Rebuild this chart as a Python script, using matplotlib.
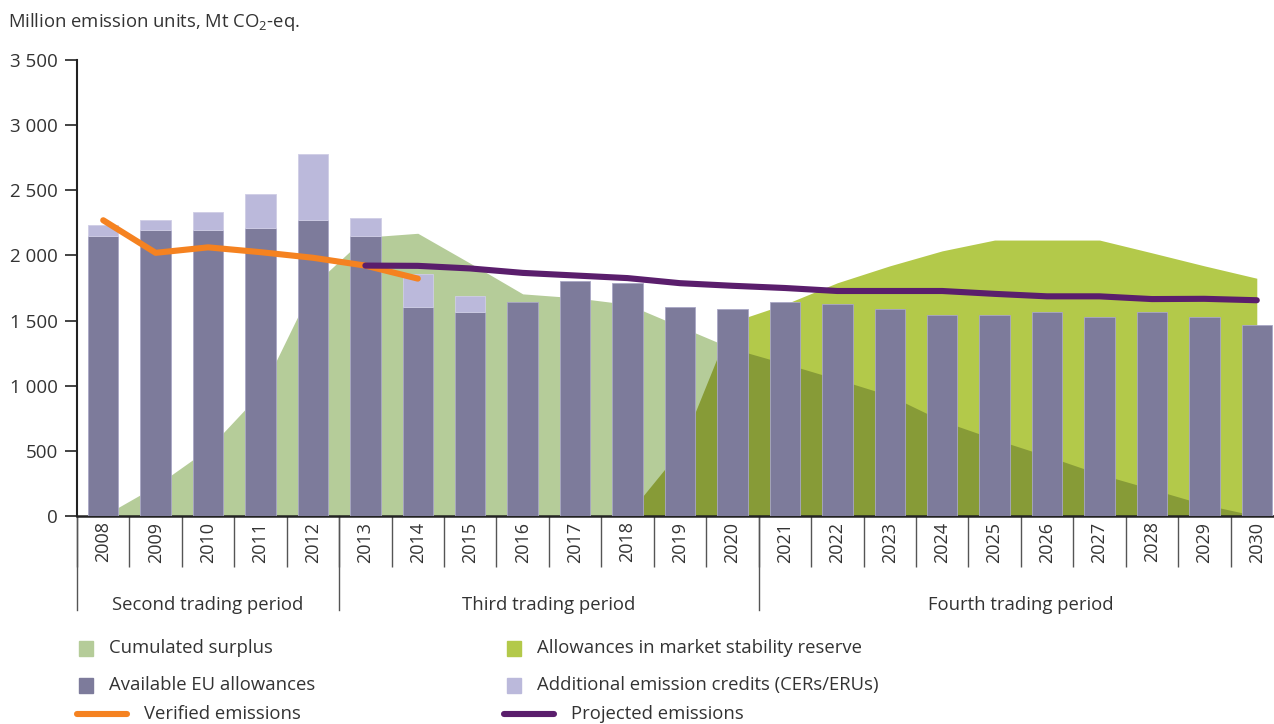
import numpy as np
import matplotlib.pyplot as plt
from matplotlib.patches import Rectangle
from matplotlib.lines import Line2D

plt.rcParams['font.family'] = ['Open Sans', 'DejaVu Sans']
plt.rcParams['mathtext.fontset'] = 'custom'
plt.rcParams['mathtext.rm'] = 'Open Sans'
plt.rcParams['mathtext.it'] = 'Open Sans:italic'
plt.rcParams['mathtext.bf'] = 'Open Sans:bold'

# data (Mt CO2-eq.)
years = [str(y) for y in range(2008, 2031)]
eu_allowances = [2150, 2195, 2195, 2210, 2270, 2150, 1605, 1565, 1645, 1805, 1785, 1605,
                 1585, 1645, 1625, 1585, 1545, 1545, 1565, 1525, 1565, 1525, 1468]
additional_credits = [80, 75, 135, 260, 510, 140, 255, 120]  # 2008-2015
cumulated_surplus = [0, 230, 515, 945, 1770, 2140, 2170, 1940, 1705, 1675, 1625, 1455,
                     1285, 1170, 1050, 925, 730, 590, 460, 322, 206, 88, 0]
msr_years = years[10:]  # 2018-2030
msr_allowances = [0, 495, 1490, 1625, 1790, 1920, 2035, 2118, 2118, 2118, 2020, 1920, 1825]
verified_years = years[:7]  # 2008-2014
verified_emissions = [2270, 2020, 2062, 2025, 1982, 1922, 1822]
projected_years = years[5:]  # 2013-2030
projected_emissions = [1922, 1920, 1900, 1866, 1846, 1826, 1787, 1767, 1750, 1727, 1727,
                       1727, 1705, 1686, 1686, 1665, 1667, 1656]

periods = ['Second trading period', 'Third trading period', 'Fourth trading period']
period_edges = [-0.5, 4.5, 12.5, 22.5]

c_surplus = '#b5cc99'
c_msr = '#b3c94a'
c_overlap = '#879b37'
c_eu = '#7d7b9b'
c_credits = '#bbb9db'
c_verified = '#f58220'
c_projected = '#5a1e6c'
c_text = '#333333'

W, H = 1274, 724
fs = 13.3
fig = plt.figure(figsize=(W / 100, H / 100), dpi=100)
ax = fig.add_axes([77 / W, 208 / H, 1206 / W, 456 / H])

x = np.arange(len(years))
x_msr = x[10:]

# areas
ax.fill_between(x, 0, cumulated_surplus, color=c_surplus, lw=0, zorder=1)
msr_poly = ax.fill_between(x_msr, 0, msr_allowances, color=c_msr, lw=0, zorder=1.2)
overlap = ax.fill_between(x, 0, cumulated_surplus, color=c_overlap, lw=0, zorder=1.4)
overlap.set_clip_path(msr_poly.get_paths()[0], transform=ax.transData)

# bars
bw = 0.58
ax.bar(x, eu_allowances, width=bw, color=c_eu, edgecolor='#a9a7c6', linewidth=0.6, zorder=3)
ax.bar(x[:len(additional_credits)], additional_credits, bottom=eu_allowances[:len(additional_credits)],
       width=bw, color=c_credits, edgecolor='#cfcde6', linewidth=0.6, zorder=3)

# lines
ax.plot(x[:len(verified_emissions)], verified_emissions, color=c_verified, lw=4.4,
        solid_capstyle='round', solid_joinstyle='round', zorder=4)
ax.plot(x[5:], projected_emissions, color=c_projected, lw=4.4,
        solid_capstyle='round', solid_joinstyle='round', zorder=5)

ax.set_xlim(-0.5, 22.5)
ax.set_ylim(0, 3500)
yt = np.arange(0, 3501, 500)
ax.set_yticks(yt)
ax.set_yticklabels(['{:,}'.format(v).replace(',', ' ') for v in yt], fontsize=13.5, color=c_text)
ax.tick_params(axis='y', length=9, width=1.2, pad=5, color='#222222')

ax.set_xticks(x)
ax.set_xticklabels(years, rotation=90, fontsize=13, color=c_text)
ax.tick_params(axis='x', which='major', length=0, pad=4)
ax.set_xticks(np.arange(-0.5, 23, 1), minor=True)
ax.tick_params(axis='x', which='minor', length=37, width=1, color='#555555')

for s in ['top', 'right']:
    ax.spines[s].set_visible(False)
ax.spines['left'].set_linewidth(1.5)
ax.spines['bottom'].set_linewidth(1.8)
ax.spines['left'].set_color('#222222')
ax.spines['bottom'].set_color('#222222')

# trading period separators and labels
xt = ax.get_xaxis_transform()
for e in period_edges[:-1]:
    ax.add_line(Line2D([e, e], [0, -0.207], transform=xt, color='#555555', lw=1, clip_on=False))
for i, p in enumerate(periods):
    ax.text((period_edges[i] + period_edges[i + 1]) / 2, -0.196, p, transform=xt,
            ha='center', va='center', fontsize=fs, color=c_text)

fig.text(8 / W, 1 - 22 / H, 'Million emission units, Mt CO$_2$-eq.', fontsize=fs,
         color=c_text, va='center', ha='left')

# legend
def legend_box(px, py, color, label):
    fig.add_artist(Rectangle((px / W, 1 - (py + 7.5) / H), 14 / W, 15 / H, color=color,
                             transform=fig.transFigure))
    fig.text((px + 30) / W, 1 - py / H, label, fontsize=fs, color=c_text, va='center')

def legend_line(px, py, color, label):
    fig.add_artist(Line2D([px / W, (px + 50) / W], [1 - py / H, 1 - py / H], color=color,
                          lw=4.4, solid_capstyle='round', transform=fig.transFigure))
    fig.text((px + 67) / W, 1 - py / H, label, fontsize=fs, color=c_text, va='center')

legend_box(79, 648, c_surplus, 'Cumulated surplus')
legend_box(79, 685, c_eu, 'Available EU allowances')
legend_line(77, 714, c_verified, 'Verified emissions')
legend_box(507, 648, c_msr, 'Allowances in market stability reserve')
legend_box(507, 685, c_credits, 'Additional emission credits (CERs/ERUs)')
legend_line(504, 714, c_projected, 'Projected emissions')

plt.savefig('out.png', dpi=100)
